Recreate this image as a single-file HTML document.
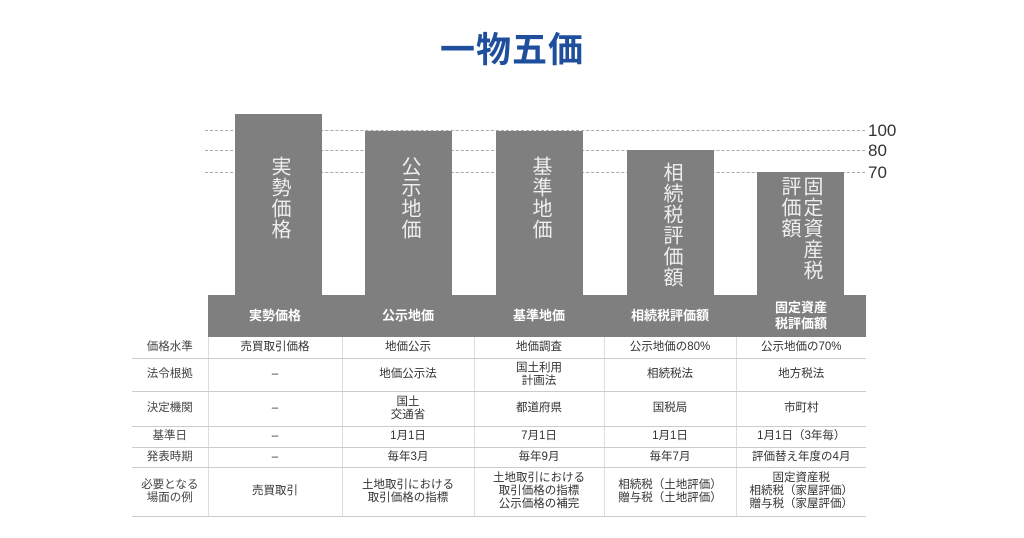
<!DOCTYPE html>
<html><head><meta charset="utf-8"><style>
*{margin:0;padding:0;box-sizing:border-box}
body{width:1024px;height:538px;background:#fff;position:relative;overflow:hidden;font-family:"Liberation Sans","Noto Sans CJK JP",sans-serif;color:#333}
.t{position:absolute;left:0;width:1024px;top:22px;text-align:center;font-size:35px;font-weight:bold;color:#1f4e9c;letter-spacing:1px}
.dash{position:absolute;left:205px;width:660px;border-top:1px dashed #aaa}
.yl{position:absolute;left:868px;font-size:17px;color:#333;line-height:1}
.bar{position:absolute;background:#7f7f7f;bottom:243px;width:87px}
.vt{position:absolute;writing-mode:vertical-rl;color:#eee;font-size:20px;line-height:22px;letter-spacing:1px}
.band{position:absolute;left:208px;top:295px;width:658px;height:42px;background:#7f7f7f}
.bh{position:absolute;top:295px;height:42px;display:flex;align-items:center;justify-content:center;text-align:center;color:#fff;font-weight:bold;font-size:13px;line-height:16px}
table{position:absolute;left:132px;top:337px;border-collapse:collapse;font-size:11.5px;color:#333}
td{border-bottom:1px solid #ccc;border-left:1px solid #ddd;text-align:center;vertical-align:middle;line-height:13px;padding:0}
td:first-child{border-left:none;color:#444}
</style></head><body>
<div class="t">一物五価</div>
<div class="dash" style="top:130px"></div>
<div class="dash" style="top:150px"></div>
<div class="dash" style="top:172px"></div>
<div class="yl" style="top:122px">100</div>
<div class="yl" style="top:142px">80</div>
<div class="yl" style="top:164px">70</div>
<div class="bar" style="left:235px;top:114px"></div>
<div class="bar" style="left:365px;top:131px"></div>
<div class="bar" style="left:496px;top:131px"></div>
<div class="bar" style="left:627px;top:150px"></div>
<div class="bar" style="left:757px;top:172px"></div>
<div class="vt" style="left:268px;top:156px">実勢価格</div>
<div class="vt" style="left:398px;top:156px">公示地価</div>
<div class="vt" style="left:529px;top:156px">基準地価</div>
<div class="vt" style="left:660px;top:162px">相続税評価額</div>
<div class="vt" style="left:778px;top:176px;height:112px;width:44px">固定資産税評価額</div>
<div class="band"></div>
<div class="bh" style="left:208px;width:134px">実勢価格</div>
<div class="bh" style="left:342px;width:132px">公示地価</div>
<div class="bh" style="left:474px;width:130px">基準地価</div>
<div class="bh" style="left:604px;width:132px">相続税評価額</div>
<div class="bh" style="left:736px;width:130px">固定資産<br>税評価額</div>
<table>
<colgroup><col style="width:76px"><col style="width:134px"><col style="width:132px"><col style="width:130px"><col style="width:132px"><col style="width:130px"></colgroup>
<tr style="height:21px"><td>価格水準</td><td>売買取引価格</td><td>地価公示</td><td>地価調査</td><td>公示地価の80%</td><td>公示地価の70%</td></tr>
<tr style="height:33px"><td>法令根拠</td><td>–</td><td>地価公示法</td><td>国土利用<br>計画法</td><td>相続税法</td><td>地方税法</td></tr>
<tr style="height:35px"><td>決定機関</td><td>–</td><td>国土<br>交通省</td><td>都道府県</td><td>国税局</td><td>市町村</td></tr>
<tr style="height:21px"><td>基準日</td><td>–</td><td>1月1日</td><td>7月1日</td><td>1月1日</td><td>1月1日（3年毎）</td></tr>
<tr style="height:20px"><td>発表時期</td><td>–</td><td>毎年3月</td><td>毎年9月</td><td>毎年7月</td><td>評価替え年度の4月</td></tr>
<tr style="height:49px"><td>必要となる<br>場面の例</td><td>売買取引</td><td>土地取引における<br>取引価格の指標</td><td>土地取引における<br>取引価格の指標<br>公示価格の補完</td><td>相続税（土地評価）<br>贈与税（土地評価）</td><td>固定資産税<br>相続税（家屋評価）<br>贈与税（家屋評価）</td></tr>
</table>
</body></html>
